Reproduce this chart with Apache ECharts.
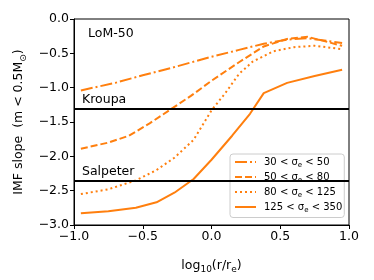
<!DOCTYPE html>
<html>
<head>
<meta charset="utf-8">
<script src="https://cdn.jsdelivr.net/npm/echarts@6/dist/echarts.min.js"></script>
<style>html,body{margin:0;padding:0;background:#fff}#c{width:374px;height:280px}</style>
</head>
<body>
<div id="c"></div>
<script>
// Data
var seriesNames = ['30 < σ{s|e} < 50', '50 < σ{s|e} < 80', '80 < σ{s|e} < 125', '125 < σ{s|e} < 350'];
var x30_50 = [-0.95, -0.7, -0.5, -0.27, 0.0, 0.2, 0.38, 0.55, 0.7, 0.95];
var y30_50 = [-1.04, -0.93, -0.82, -0.70, -0.55, -0.45, -0.36, -0.30, -0.28, -0.35];
var x50_80 = [-0.95, -0.75, -0.6, -0.45, -0.3, -0.15, 0.0, 0.2, 0.38, 0.55, 0.7, 0.95];
var y50_80 = [-1.89, -1.80, -1.70, -1.52, -1.32, -1.12, -0.90, -0.63, -0.40, -0.29, -0.26, -0.39];
var x80_125 = [-0.95, -0.75, -0.55, -0.4, -0.27, -0.13, 0.0, 0.1, 0.2, 0.3, 0.45, 0.6, 0.75, 0.95];
var y80_125 = [-2.55, -2.48, -2.35, -2.20, -2.02, -1.76, -1.33, -1.08, -0.80, -0.62, -0.47, -0.41, -0.39, -0.44];
var x125_350 = [-0.95, -0.75, -0.55, -0.4, -0.27, -0.13, 0.0, 0.15, 0.28, 0.38, 0.55, 0.75, 0.95];
var y125_350 = [-2.83, -2.80, -2.75, -2.67, -2.53, -2.33, -2.05, -1.70, -1.38, -1.08, -0.93, -0.83, -0.74];
var kroupaSlope = -1.3;
var salpeterSlope = -2.35;
var refNames = ['Kroupa', 'Salpeter'];
var xTicks = [-1.0, -0.5, 0.0, 0.5, 1.0];
var yTicks = [-3.0, -2.5, -2.0, -1.5, -1.0, -0.5, 0.0];

var FONT = 'DejaVu Sans';
var ORANGE = '#ff7f0e';
function pairs(xs, ys) { return xs.map(function (x, i) { return [x, ys[i]]; }); }
function fmt(v) { var s = Math.abs(v).toFixed(1); return (v < 0 ? '\u2212' : '') + s; }

var dashTypes = [[12, 3, 2, 3], [7, 3], [2, 3], 'solid'];
var xsAll = [x30_50, x50_80, x80_125, x125_350];
var ysAll = [y30_50, y50_80, y80_125, y125_350];

var series = seriesNames.map(function (n, i) {
  return {
    name: n, type: 'line', data: pairs(xsAll[i], ysAll[i]),
    showSymbol: false, symbol: 'none', animation: false,
    lineStyle: { color: ORANGE, width: 2, type: dashTypes[i], cap: 'butt' },
    itemStyle: { color: ORANGE }, z: 3
  };
});
series.push({
  name: 'ref', type: 'line', data: [], animation: false,
  markLine: {
    silent: true, symbol: 'none', animation: false,
    lineStyle: { color: '#000', width: 2, type: 'solid' },
    label: { show: true, position: 'insideStartTop', formatter: '{b}', color: '#000', fontFamily: FONT, fontSize: 12.5, distance: [8, 2] },
    data: [{ yAxis: kroupaSlope, name: refNames[0] }, { yAxis: salpeterSlope, name: refNames[1] }]
  }
});

var subRich = { s: { fontSize: 9, fontFamily: FONT, verticalAlign: 'bottom', padding: [8, 0, 0, 0] } };

var chart = echarts.init(document.getElementById('c'), null, { renderer: 'canvas' });
chart.setOption({
  animation: false,
  grid: { left: 74, right: 25, top: 19, bottom: 55, show: true, borderColor: '#000', borderWidth: 1, backgroundColor: 'transparent' },
  xAxis: {
    type: 'value', min: xTicks[0], max: xTicks[xTicks.length - 1], interval: 0.5,
    name: 'log{s|10}(r/r{s|e})', nameLocation: 'middle', nameGap: 32,
    nameTextStyle: { fontFamily: FONT, fontSize: 12.5, color: '#000', rich: subRich },
    axisLine: { show: true, onZero: false, lineStyle: { color: '#000', width: 1 } },
    axisTick: { show: true, inside: false, length: 4, lineStyle: { color: '#000' } },
    axisLabel: { formatter: fmt, fontFamily: FONT, fontSize: 12.5, color: '#000', margin: 5 },
    splitLine: { show: false }
  },
  yAxis: {
    type: 'value', min: yTicks[0], max: yTicks[yTicks.length - 1], interval: 0.5,
    name: 'IMF slope  (m < 0.5M{s|⊙})', nameLocation: 'middle', nameGap: 46,
    nameTextStyle: { fontFamily: FONT, fontSize: 12.5, color: '#000', rich: subRich },
    axisLine: { show: true, onZero: false, lineStyle: { color: '#000', width: 1 } },
    axisTick: { show: true, inside: false, length: 4, lineStyle: { color: '#000' } },
    axisLabel: { formatter: fmt, fontFamily: FONT, fontSize: 12.5, color: '#000', margin: 5 },
    splitLine: { show: false }
  },
  legend: {
    data: seriesNames, orient: 'vertical', left: 230, top: 154,
    itemWidth: 21, itemHeight: 12, itemGap: 3.5,
    padding: [3, 2, 4, 4],
    itemStyle: { color: 'transparent', borderWidth: 0, opacity: 0 },
    backgroundColor: 'rgba(255,255,255,0.8)', borderColor: '#ccc', borderWidth: 1, borderRadius: 3,
    textStyle: { fontFamily: FONT, fontSize: 10, color: '#000', padding: [0, 0, 0, 3],
      rich: { s: { fontSize: 7, fontFamily: FONT, verticalAlign: 'bottom', padding: [6, 0, 0, 0] } } }
  },
  graphic: [{ type: 'text', left: 88, top: 27, style: { text: 'LoM-50', fontFamily: FONT, fontSize: 12.5, fill: '#000' } }],
  series: series
});
</script>
</body>
</html>
